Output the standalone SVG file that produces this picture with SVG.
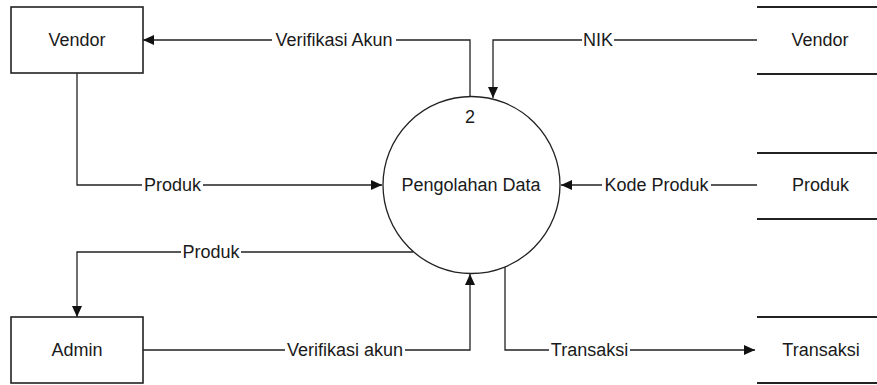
<svg xmlns="http://www.w3.org/2000/svg" width="877" height="385" viewBox="0 0 877 385">
  <style>
    text { font-family: "Liberation Sans", Arial, sans-serif; font-size: 18px; fill: #1a1a1a; }
    .c { text-anchor: middle; }
    .box { fill: #fff; stroke: #222; stroke-width: 1.6; }
    .proc { fill: #fff; stroke: #222; stroke-width: 1.3; }
    .store { stroke: #222; stroke-width: 2; fill: none; }
    .flow { fill: none; stroke: #222; stroke-width: 1.3; marker-end: url(#arrow); }
    .lblbg { fill: #fff; }
  </style>
  <defs>
    <marker id="arrow" markerUnits="userSpaceOnUse" markerWidth="12" markerHeight="10" refX="11" refY="5" orient="auto">
      <path d="M0,0 L11,5 L0,10 z" fill="#111"/>
    </marker>
  </defs>
  <rect width="877" height="385" fill="#fff"/>

  <!-- data flows -->
  <g id="connectors">
    <path class="flow" d="M470,97 V40 H143"/>
    <path class="flow" d="M757,40 H493 V98"/>
    <path class="flow" d="M77,73 V185 H382"/>
    <path class="flow" d="M757,185 H561"/>
    <path class="flow" d="M413,252 H77 V317"/>
    <path class="flow" d="M143,350 H470 V274"/>
    <path class="flow" d="M505,267 V350 H755"/>

    <rect class="lblbg" x="272" y="32" width="124" height="17"/>
    <text class="c" x="334" y="46">Verifikasi Akun</text>
    <rect class="lblbg" x="582" y="32" width="32" height="17"/>
    <text class="c" x="598" y="46">NIK</text>
    <rect class="lblbg" x="142" y="177" width="61" height="17"/>
    <text class="c" x="172.5" y="191">Produk</text>
    <rect class="lblbg" x="602" y="177" width="109" height="17"/>
    <text class="c" x="656.5" y="191">Kode Produk</text>
    <rect class="lblbg" x="181" y="244" width="60" height="17"/>
    <text class="c" x="211" y="258">Produk</text>
    <rect class="lblbg" x="285" y="342" width="120" height="17"/>
    <text class="c" x="345" y="356">Verifikasi akun</text>
    <rect class="lblbg" x="549" y="342" width="81" height="17"/>
    <text class="c" x="589.5" y="356">Transaksi</text>
  </g>

  <!-- external entities -->
  <g id="vendor-entity">
    <rect class="box" x="11" y="7" width="132" height="66"/>
    <text class="c" x="77" y="46">Vendor</text>
  </g>
  <g id="admin-entity">
    <rect class="box" x="11" y="317" width="132" height="66"/>
    <text class="c" x="77" y="356">Admin</text>
  </g>

  <!-- process -->
  <g id="process-2">
    <circle class="proc" cx="471.5" cy="185" r="88.5"/>
    <text class="c" x="470" y="123">2</text>
    <text class="c" x="471" y="191">Pengolahan Data</text>
  </g>

  <!-- data stores -->
  <g id="store-vendor">
    <path class="store" d="M757,7 H877 M757,74 H877"/>
    <text class="c" x="820" y="46">Vendor</text>
  </g>
  <g id="store-produk">
    <path class="store" d="M757,153 H877 M757,219 H877"/>
    <text class="c" x="820.5" y="191">Produk</text>
  </g>
  <g id="store-transaksi">
    <path class="store" d="M757,317 H877 M757,383 H877"/>
    <text class="c" x="821" y="356">Transaksi</text>
  </g>
</svg>
